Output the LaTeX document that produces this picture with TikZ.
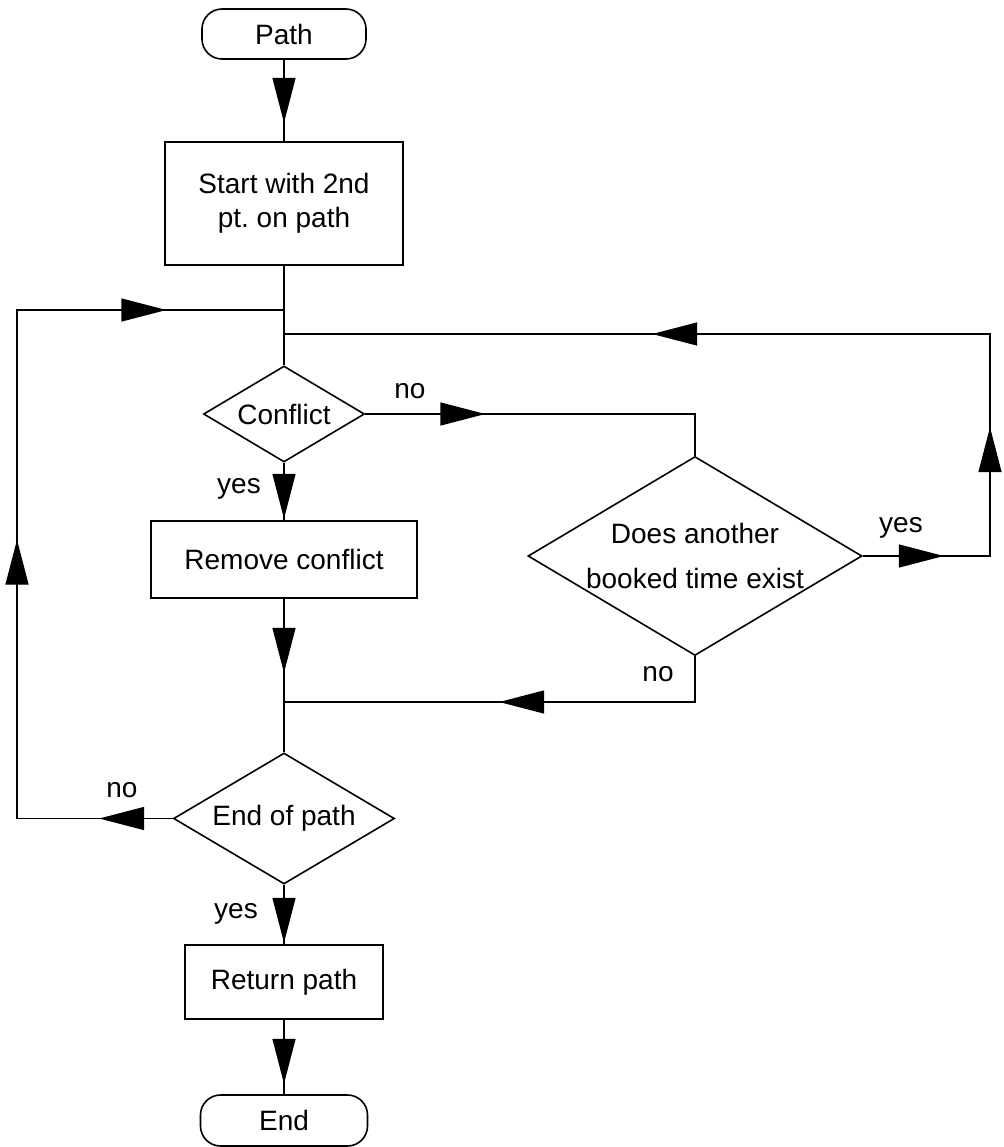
\documentclass[tikz,border=0pt]{standalone}
\usepackage{fontspec}
\setmainfont{Liberation Sans}
\usetikzlibrary{shapes.geometric,arrows.meta,decorations.markings}
\tikzset{
    terminal/.style={draw,line width=0.8pt,rounded corners=10pt,minimum width=82pt,minimum height=25pt},
    process/.style={draw,rectangle,line width=0.8pt,align=center,inner sep=0pt},
    decision/.style={draw,diamond,aspect=1.68,line width=0.8pt,align=center,inner sep=-3pt},
    flow/.style={line width=0.7pt},
    bigarrow/.style={postaction={decorate,decoration={markings,mark=at position #1 with {\arrow{Triangle[length=22.5pt,width=11.5pt]}}}}}
}
\begin{document}
\begin{tikzpicture}[x=0.5pt,y=-0.5pt,font=\fontsize{14pt}{17pt}\selectfont]
            \useasboundingbox (0,0) rectangle (1003,1147);
            \node[terminal] (path) at (284,34) {Path};
            \node[process,minimum width=119pt,minimum height=61.5pt] (start) at (284,203.5) {Start with 2nd\\pt.\ on path};
            \node[decision,minimum width=80.5pt,minimum height=48pt] (conflict) at (284,414) {Conflict};
            \node[process,minimum width=133pt,minimum height=38.5pt] (remove) at (284,559.5) {Remove conflict};
            \node[decision,minimum width=167pt,minimum height=99.5pt] (another) at (695,556) {Does another\\[5.5pt]booked time exist};
            \node[decision,minimum width=110.5pt,minimum height=65.5pt] (endpath) at (284,818.5) {End of path};
            \node[process,minimum width=99pt,minimum height=37pt] (retpath) at (284,982) {Return path};
            \node[terminal,minimum width=83.5pt,minimum height=25.5pt] (end) at (284,1120.5) {End};
            \coordinate (jleft) at (284,310);
            \coordinate (jright) at (284,334);
            \coordinate (jbottom) at (284,702);
            \coordinate (lcorner1) at (17,818.5);
            \coordinate (lcorner2) at (17,310);
            \coordinate (rcorner1) at (990,556);
            \coordinate (rcorner2) at (990,334);
            \coordinate (ncorner) at (695,414);
            \coordinate (acorner) at (695,702);
            \draw[flow,bigarrow=31.5pt] (path) -- (start);
            \draw[flow] (start) -- (conflict);
            \draw[flow,bigarrow=28pt] (conflict) -- (remove);
            \draw[flow,bigarrow=37pt] (remove) -- (endpath);
            \draw[flow,bigarrow=29pt] (endpath) -- (retpath);
            \draw[flow,bigarrow=32pt] (retpath) -- (end);
            \draw[flow,bigarrow=60pt] (conflict.east) -- (ncorner) -- (another.north);
            \draw[flow,bigarrow=40.5pt,bigarrow=128pt,bigarrow=343.5pt] (another.east) -- (rcorner1) -- (rcorner2) -- (jright);
            \draw[flow,bigarrow=120.75pt] (another.south) -- (acorner) -- (jbottom);
            \draw[flow,bigarrow=36.75pt,bigarrow=217.25pt,bigarrow=406.75pt] (endpath.west) -- (lcorner1) -- (lcorner2) -- (jleft);
            \node at (410,391) {no};
            \node at (239,489) {yes};
            \node at (901,528) {yes};
            \node at (658,674) {no};
            \node at (122,790) {no};
            \node at (236,914) {yes};
        \end{tikzpicture}
\end{document}
